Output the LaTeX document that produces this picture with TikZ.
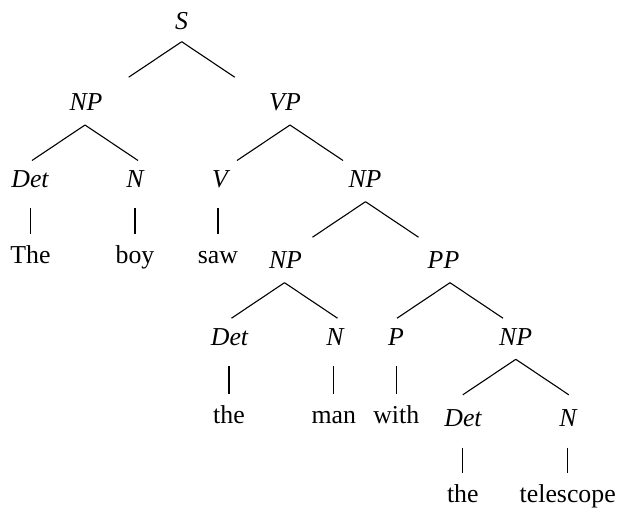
\documentclass[tikz,border=0pt]{standalone}
\usepackage{fontspec}
\setmainfont{Liberation Serif}
\usetikzlibrary{calc}
\begin{document}
\begin{tikzpicture}[x=1pt,y=-1pt,
  every node/.style={inner sep=0pt, outer sep=0pt, anchor=base, font=\fontsize{25.8pt}{30pt}\selectfont},
  lab/.style={font=\fontsize{25.8pt}{30pt}\selectfont\itshape},
  wrd/.style={},
  edge/.style={line width=1.1pt, line cap=butt},
  branch/.style={edge}]
\useasboundingbox (0,0) rectangle (619,509);
% level labels
\node[lab] (S) at (181.5,29) {S};
\node[lab] (NP1) at (86,110) {NP};
\node[lab] (VP) at (285,110) {VP};
\node[lab] (Det1) at (30,187) {Det};
\node[lab] (N1) at (135,187) {N};
\node[lab] (V) at (220,187) {V};
\node[lab] (NP2) at (365,187) {NP};
\node[wrd] (The) at (30.5,263.5) {The};
\node[wrd] (boy) at (135,263.5) {boy};
\node[wrd] (saw) at (218,263.5) {saw};
\node[lab] (NP3) at (285.5,268) {NP};
\node[lab] (PP) at (443.5,268) {PP};
\node[lab] (Det2) at (229.5,345) {Det};
\node[lab] (N2) at (335,345) {N};
\node[lab] (P) at (396,345) {P};
\node[lab] (NP4) at (515.7,345) {NP};
\node[wrd] (the1) at (229,423) {the};
\node[wrd] (man) at (333.8,423) {man};
\node[wrd] (with) at (396.3,423) {with};
\node[lab] (Det3) at (463,426.7) {Det};
\node[lab] (N3) at (568,426.7) {N};
\node[wrd] (the2) at (462.8,502.5) {the};
\node[wrd] (telescope) at (567.7,502.5) {telescope};
% branch apexes
\coordinate (aS) at (181.7,41.7);
\coordinate (aNP1) at (85,125);
\coordinate (aVP) at (290,125);
\coordinate (aNP2) at (365.5,201.7);
\coordinate (aNP3) at (284.5,282.7);
\coordinate (aPP) at (450,282.7);
\coordinate (aNP4) at (515.8,359.3);
\foreach \a in {aS,aNP1,aVP,aNP2,aNP3,aPP,aNP4}{
  \draw[branch] (\a) -- ++(-53,35.5);
  \draw[branch] (\a) -- ++(53,35.5);
}
% unary lines (vertical, at the word's centre)
\foreach \p/\c in {Det1/The,N1/boy,V/saw,Det2/the1,N2/man,P/with,Det3/the2,N3/telescope}{
  \draw[edge] ($(\c.base |- \p.base)+(0,20.8)$) -- ($(\c.base)+(0,-29.5)$);
}
\end{tikzpicture}
\end{document}
